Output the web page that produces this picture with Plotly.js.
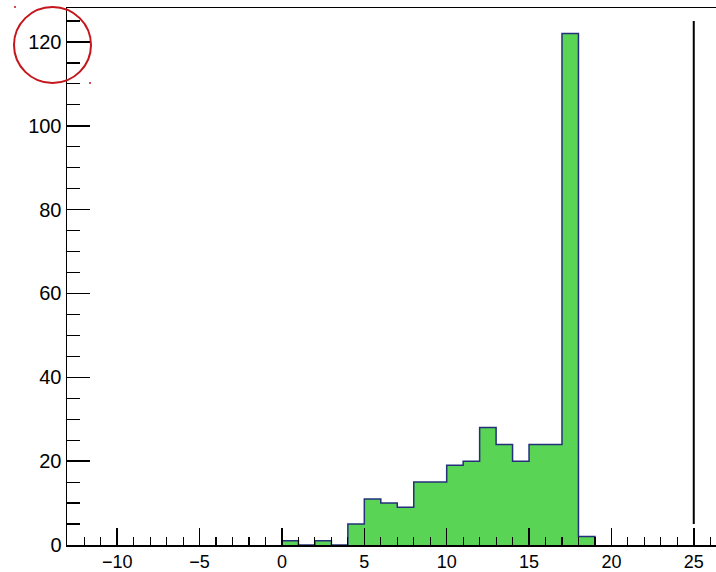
<!DOCTYPE html>
<html>
<head>
<meta charset="utf-8">
<script src="https://cdn.plot.ly/plotly-3.0.1.min.js"></script>
<style>html,body{margin:0;padding:0;background:#fff;}</style>
</head>
<body>
<div id="chart" style="width:716px;height:572px;"></div>
<script>
// Histogram bin edges (width 1) and counts
const binEdges = [0,1,2,3,4,5,6,7,8,9,10,11,12,13,14,15,16,17,18,19];
const counts   = [1,0,1,0,5,11,10,9,15,15,19,20,28,24,20,24,24,122,2];
// Vertical marker line
const markerX = [25, 25];
const markerY = [5, 125];

// step outline points built from the arrays
const stepX = [binEdges[0]];
const stepY = [0];
for (let i = 0; i < counts.length; i++) { stepX.push(binEdges[i]); stepY.push(counts[i]); }
stepX.push(binEdges[binEdges.length-1]); stepY.push(counts[counts.length-1]);
stepX.push(binEdges[binEdges.length-1]); stepY.push(0);

const traces = [
  {
    x: stepX, y: stepY, type: 'scatter', mode: 'lines',
    line: {shape: 'hv', color: '#24307a', width: 1.5},
    fill: 'tozeroy', fillcolor: '#59d454', hoverinfo: 'skip'
  },
  {
    x: markerX, y: markerY, type: 'scatter', mode: 'lines',
    line: {color: '#000000', width: 2}, hoverinfo: 'skip'
  }
];

const layout = {
  width: 716, height: 572,
  margin: {l: 67, r: 0, t: 8, b: 27, pad: 0},
  paper_bgcolor: '#ffffff', plot_bgcolor: '#ffffff',
  showlegend: false,
  font: {family: 'Liberation Sans, Arial, sans-serif', size: 20, color: '#000'},
  xaxis: {
    range: [-13.05, 26.35], showgrid: false, zeroline: false,
    showline: true, linecolor: '#000', linewidth: 1.5, mirror: true,
    ticks: 'inside', ticklen: 17, tickwidth: 1.5, tickcolor: '#000',
    tick0: 0, dtick: 5,
    minor: {ticks: 'inside', ticklen: 8, tickwidth: 1.2, tickcolor: '#000', dtick: 1, showgrid: false},
    tickfont: {size: 18}
  },
  yaxis: {
    range: [0, 128.1], showgrid: false, zeroline: false,
    showline: true, linecolor: '#000', linewidth: 1.5,
    ticks: 'inside', ticklen: 23, tickwidth: 1.5, tickcolor: '#000',
    tick0: 0, dtick: 20,
    minor: {ticks: 'inside', ticklen: 13, tickwidth: 1.2, tickcolor: '#000', dtick: 5, showgrid: false},
    tickfont: {size: 20}
  },
  shapes: [
    {type: 'circle', xref: 'paper', yref: 'paper',
     x0: (14-67)/649, x1: (91-67)/649, y0: (545-83)/537, y1: (545-7)/537,
     line: {color: '#c4161c', width: 2}},
    {type: 'circle', xref: 'paper', yref: 'paper',
     x0: (14-67)/649, x1: (16-67)/649, y0: (545-8)/537, y1: (545-6)/537,
     fillcolor: '#c4161c', line: {color: '#c4161c', width: 0}},
    {type: 'circle', xref: 'paper', yref: 'paper',
     x0: (89-67)/649, x1: (91-67)/649, y0: (545-84)/537, y1: (545-82)/537,
     fillcolor: '#c4161c', line: {color: '#c4161c', width: 0}}
  ]
};

Plotly.newPlot('chart', traces, layout, {displayModeBar: false, staticPlot: true});
</script>
</body>
</html>
